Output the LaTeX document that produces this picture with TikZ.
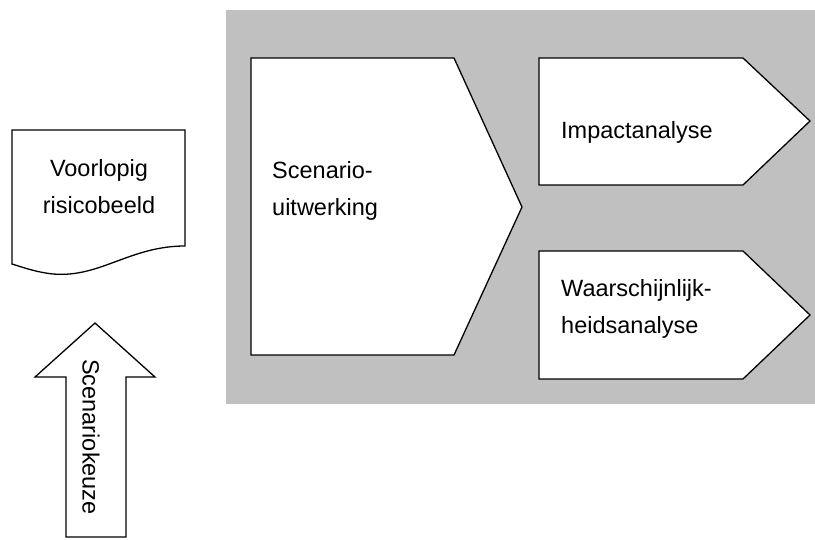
\documentclass[tikz,border=0pt]{standalone}
\usepackage{fontspec}
\setmainfont{Liberation Sans}
\definecolor{panelgray}{HTML}{C0C0C0}
\begin{document}
\begin{tikzpicture}[x=1pt,y=-1pt,
  shapeline/.style={draw=black,line width=1.3pt,fill=white,line join=miter},
  lbl/.style={font=\fontsize{23.5}{37}\selectfont,inner sep=0pt,align=left,anchor=base west},
  lblc/.style={font=\fontsize{23.5}{37}\selectfont,inner sep=0pt,align=center,anchor=base}]
\useasboundingbox (0,0) rectangle (815,539);
% grey panel
\fill[panelgray] (226,10) rectangle (815,404);
% Scenario-uitwerking
\draw[shapeline] (251,58) -- (454,58) -- (522,207) -- (454,355) -- (251,355) -- cycle;
\node[lbl] (scen) at (272,215) {Scenario-\\uitwerking};
% Impactanalyse
\draw[shapeline] (539,58) -- (743,58) -- (810,121) -- (743,185) -- (539,185) -- cycle;
\node[lbl] (impact) at (561,138) {Impactanalyse};
% Waarschijnlijkheidsanalyse
\draw[shapeline] (539,251) -- (743,251) -- (810,315) -- (743,379) -- (539,379) -- cycle;
\node[lbl] (waar) at (561,333) {Waarschijnlijk-\\heidsanalyse};
% document shape
\draw[shapeline] (12,130) -- (185,130) -- (185,246)
  .. controls (130,246) and (100,278) .. (53,274)
  .. controls (35,272) and (22,267) .. (12,264) -- cycle;
\node[lblc] (doc) at (99,213) {Voorlopig\\risicobeeld};
% arrow
\draw[shapeline] (66,537) -- (66,377) -- (35,377) -- (95,323) -- (155,377) -- (126,377) -- (126,537) -- cycle;
\node[font=\fontsize{23.5}{37}\selectfont,inner sep=0pt,rotate=-90] (keuze) at (91,437) {Scenariokeuze};
\end{tikzpicture}
\end{document}
